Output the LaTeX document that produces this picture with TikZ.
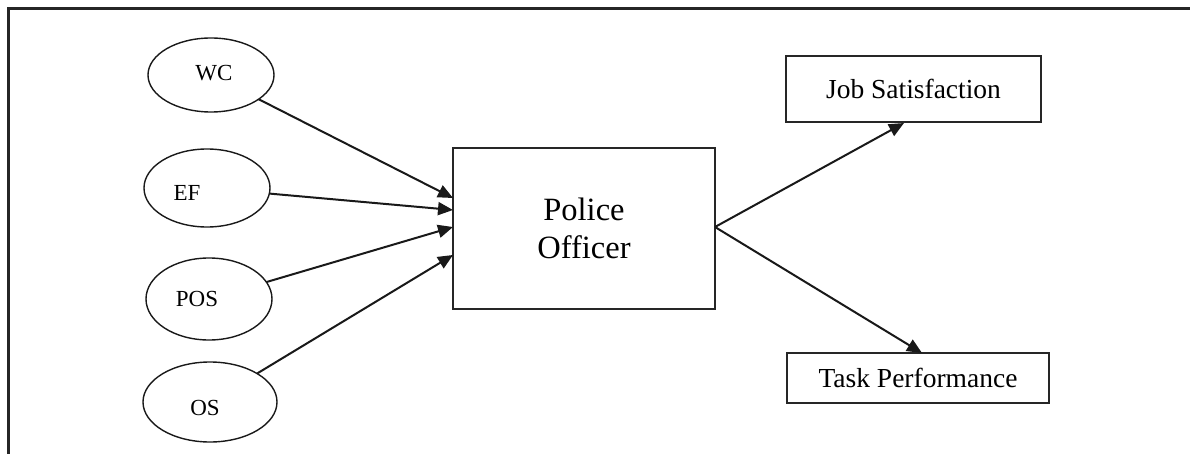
\documentclass[tikz,border=0pt]{standalone}
\usepackage{fontspec}
\setmainfont{Liberation Serif}
\usetikzlibrary{arrows.meta,shapes.geometric}
\begin{document}
\begin{tikzpicture}[x=1pt,y=-1pt,
  frame/.style={line width=3pt,draw=black!85},
  oval/.style={ellipse,draw=black!90,line width=1.4pt,inner sep=0pt,outer sep=0pt},
  lbl/.style={font=\fontsize{23}{27}\selectfont,inner sep=0pt},
  boxnode/.style={rectangle,draw=black!85,line width=1.5pt,inner sep=0pt,outer sep=0pt,align=center},
  arr/.style={line width=2pt,draw=black!90,-{Triangle[length=15pt,width=13pt]}}]
\useasboundingbox (0,0) rectangle (1190,454);
\draw[frame] (8,454) -- (8,9) -- (1190,9);
% ovals
\node[oval,minimum width=126pt,minimum height=74pt] (wc) at (211,75) {};
\node[lbl] (wct) at (214,73) {WC};
\node[oval,minimum width=126pt,minimum height=78pt] (ef) at (207,188) {};
\node[lbl] (eft) at (187,193) {EF};
\node[oval,minimum width=126pt,minimum height=82pt] (pos) at (209,299) {};
\node[lbl] (post) at (197,299) {POS};
\node[oval,minimum width=134pt,minimum height=80pt] (os) at (210,402) {};
\node[lbl] (ost) at (205,408) {OS};
% boxes
\node[boxnode,minimum width=262pt,minimum height=161pt,font=\fontsize{32.5}{38}\selectfont] (po) at (584,228.5) {Police\\Officer};
\node[boxnode,minimum width=255pt,minimum height=66pt,font=\fontsize{27.5}{32}\selectfont] (js) at (913.5,89) {Job Satisfaction};
\node[boxnode,minimum width=262pt,minimum height=50pt,font=\fontsize{27.5}{32}\selectfont] (tp) at (918,378) {Task Performance};
% arrow ends
\coordinate (in1) at (453,198);
\coordinate (in2) at (453,210);
\coordinate (in3) at (453,227);
\coordinate (in4) at (453,255);
\coordinate (o1) at (904,123);
\coordinate (o2) at (922,353);
\coordinate (oe) at (715,227);
\draw[arr] (wc) -- (in1);
\draw[arr] (ef) -- (in2);
\draw[arr] (pos) -- (in3);
\draw[arr] (os) -- (in4);
\draw[arr] (oe) -- (o1);
\draw[arr] (oe) -- (o2);
\end{tikzpicture}
\end{document}
